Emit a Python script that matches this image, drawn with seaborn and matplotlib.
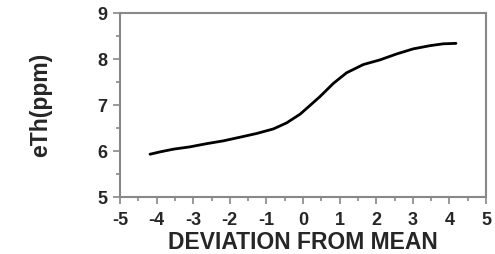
import matplotlib
matplotlib.use("Agg")
import matplotlib.pyplot as plt
import seaborn as sns
import pandas as pd
from matplotlib.ticker import MultipleLocator

# values
deviation = [-4.18, -3.91, -3.54, -3.09, -2.63, -2.18, -1.72, -1.27, -0.81,
             -0.45, -0.08, 0.12, 0.46, 0.83, 1.19, 1.65, 2.10, 2.56, 3.01,
             3.47, 3.83, 4.18]
eth_ppm = [5.93, 5.98, 6.04, 6.09, 6.16, 6.22, 6.30, 6.38, 6.48,
           6.61, 6.80, 6.94, 7.18, 7.47, 7.70, 7.88, 7.98, 8.11, 8.22,
           8.29, 8.33, 8.34]

df = pd.DataFrame({"deviation": deviation, "eth": eth_ppm})

sns.set_style("white")
plt.rcParams["font.family"] = ["Liberation Sans", "DejaVu Sans"]
plt.rcParams["axes.unicode_minus"] = False

fig = plt.figure(figsize=(4.95, 2.54), dpi=100)
ax = fig.add_axes([120 / 495, 1 - 197 / 254, 366 / 495, 184 / 254])

sns.lineplot(data=df, x="deviation", y="eth", color="black", linewidth=2, ax=ax)

ax.set_xlim(-5, 5)
ax.set_ylim(5, 9)
ax.xaxis.set_major_locator(MultipleLocator(1))
ax.xaxis.set_minor_locator(MultipleLocator(0.5))
ax.yaxis.set_major_locator(MultipleLocator(1))
ax.yaxis.set_minor_locator(MultipleLocator(0.5))

grey = "#888888"
for s in ax.spines.values():
    s.set_color(grey)
    s.set_linewidth(1.5)

ax.tick_params(axis="both", which="major", direction="out", length=5, width=1.2,
               color=grey, labelsize=13, bottom=True, left=True)
ax.tick_params(axis="x", which="major", pad=6)
ax.tick_params(axis="y", which="major", pad=4)
ax.tick_params(axis="both", which="minor", direction="out", length=3, width=1.2,
               color=grey, bottom=True, left=True)
for lbl in ax.get_xticklabels() + ax.get_yticklabels():
    lbl.set_fontweight("bold")

ax.set_xlabel("DEVIATION FROM MEAN", fontsize=16.5, fontweight="bold", labelpad=1)
ax.set_ylabel("eTh(ppm)", fontsize=16.5, fontweight="bold", labelpad=33)

fig.savefig("out.png", dpi=100)
